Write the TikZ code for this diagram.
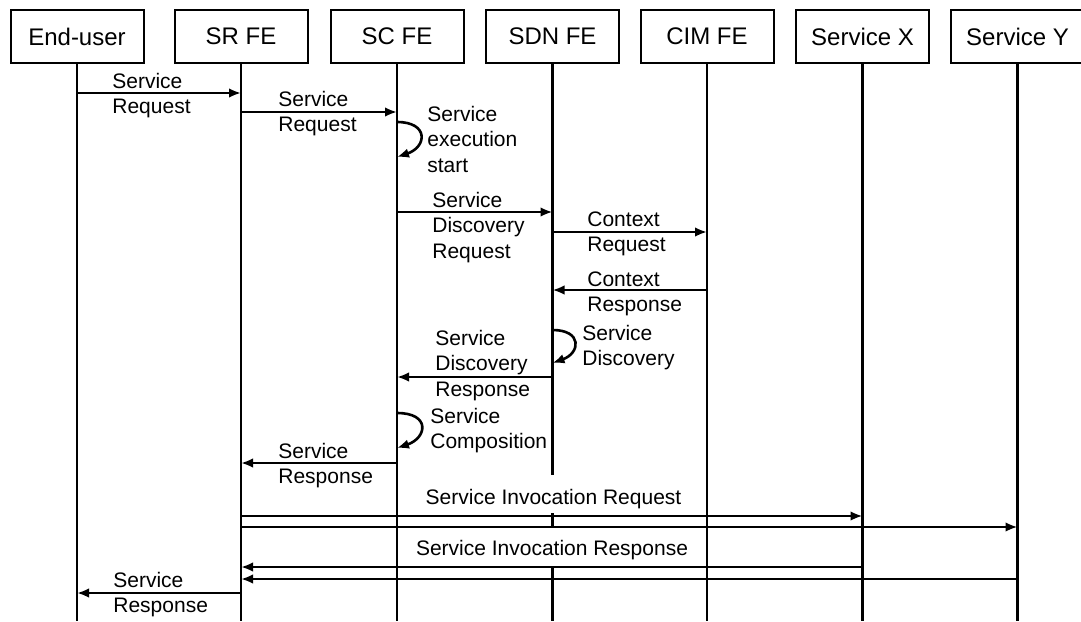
\documentclass[tikz,border=0pt]{standalone}
\usepackage{fontspec}
\setmainfont{Liberation Sans}
\usetikzlibrary{arrows.meta}
\begin{document}
\begin{tikzpicture}[x=0.5pt,y=-0.5pt,
  hdr/.style={draw,line width=1pt,minimum width=66.5pt,minimum height=26.5pt,inner sep=0pt,font=\fontsize{12pt}{14pt}\selectfont},
  life/.style={line width=1.2pt},
  msg/.style={line width=1.3pt,-{Latex[length=6pt,width=4.8pt]}},
  lbl/.style={anchor=north west,align=left,inner sep=0pt,font=\fontsize{10.5pt}{12.6pt}\selectfont},
  clbl/.style={anchor=base,inner sep=0pt,font=\fontsize{10.5pt}{12.6pt}\selectfont}]
\useasboundingbox (0,0) rectangle (1081,621);
% headers
\node[hdr] (eu) at (77,36.5) {End-user};
\node[hdr] (sr) at (241,36.5) {SR FE};
\node[hdr] (sc) at (397,36.5) {SC FE};
\node[hdr] (sdn) at (552.5,36.5) {SDN FE};
\node[hdr] (cim) at (707,36.5) {CIM FE};
\node[hdr] (sx) at (862.5,36.5) {Service X};
\node[hdr] (sy) at (1017.5,36.5) {Service Y};
% lifelines
\coordinate (euE) at (77,621);
\coordinate (srE) at (241,621);
\coordinate (scE) at (397,621);
\coordinate (cimE) at (707,621);
\coordinate (sxE) at (862.5,621);
\coordinate (syE) at (1017.5,621);
\draw[life] (eu.south) -- (euE);
\draw[life] (sr.south) -- (srE);
\draw[life] (sc.south) -- (scE);
\draw[life] (cim.south) -- (cimE);
\draw[life] (sx.south) -- (sxE);
\draw[life] (sy.south) -- (syE);
\draw[life] (sdn.south) -- (sdn |- 0,475);
\draw[life] (sdn |- 0,513) -- (sdn |- 0,527);
\draw[life] (sdn |- 0,567) -- (sdn |- 0,621);
% messages
\draw[msg] (eu |- 0,93) -- (sr |- 0,93);
\node[lbl] (l1) at (112,72.5) {Service\\Request};
\draw[msg] (sr |- 0,112) -- (sc |- 0,112);
\node[lbl] (l2) at (278,90.5) {Service\\Request};
\draw[msg] (sc |- 0,122) .. controls +(32,0) and +(30,-10) .. (sc |- 0,157);
\node[lbl] (l3) at (427,106) {Service\\execution\\start};
\draw[msg] (sc |- 0,212) -- (sdn |- 0,212);
\node[lbl] (l4) at (432,192) {Service\\Discovery\\Request};
\draw[msg] (sdn |- 0,232) -- (cim |- 0,232);
\node[lbl] (l5) at (587,211) {Context\\Request};
\draw[msg] (cim |- 0,290) -- (sdn |- 0,290);
\node[lbl] (l6) at (587,271) {Context\\Response};
\draw[msg] (sdn |- 0,330) .. controls +(30,0) and +(28,-10) .. (sdn |- 0,363);
\node[lbl] (l7) at (582,325) {Service\\Discovery};
\draw[msg] (sdn |- 0,377) -- (sc |- 0,377);
\node[lbl] (l8) at (435,330) {Service\\Discovery\\Response};
\draw[msg] (sc |- 0,413) .. controls +(34,0) and +(30,-10) .. (sc |- 0,448);
\node[lbl] (l9) at (430,408) {Service\\Composition};
\draw[msg] (sc |- 0,463) -- (sr |- 0,463);
\node[lbl] (l10) at (278,443) {Service\\Response};
\node[clbl] (l11) at (553.5,504.5) {Service Invocation Request};
\draw[msg] (sr |- 0,516) -- (sx |- 0,516);
\draw[msg] (sr |- 0,527) -- (sy |- 0,527);
\node[clbl] (l12) at (552,555.5) {Service Invocation Response};
\draw[msg] (sx |- 0,567) -- (sr |- 0,567);
\draw[msg] (sy |- 0,579) -- (sr |- 0,579);
\draw[msg] (sr |- 0,593) -- (eu |- 0,593);
\node[lbl] (l13) at (113,572) {Service\\Response};
\end{tikzpicture}
\end{document}
